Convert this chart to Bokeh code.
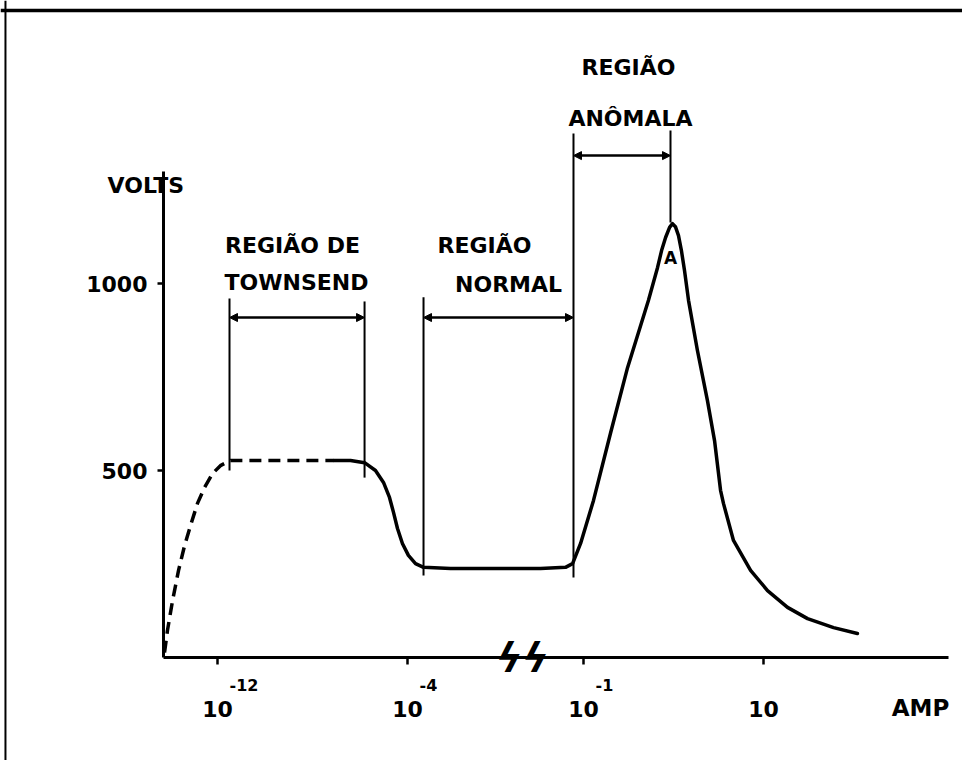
from bokeh.plotting import figure
from bokeh.models import (Range1d, LinearAxis, FixedTicker, CustomJSTickFormatter,
                          ColumnDataSource, Span, Arrow, NormalHead)
from bokeh.core.properties import value
from bokeh.embed import file_html
from bokeh.resources import INLINE

# ---- data (x: schematic position along the current axis, in tick divisions; y: volts) ----
tick_pos = [0.0, 1.044, 2.011, 3.0]
tick_base = ["10", "10", "10", "10"]
tick_exp = ["-12", "-4", "-1", ""]
volt_ticks = [500, 1000]

# dashed (uncertain) part of the characteristic
dash_x = [-0.291, -0.275, -0.247, -0.214, -0.181, -0.148, -0.110, -0.071, -0.027,
          0.016, 0.071, 0.236, 0.401, 0.637]
dash_v = [13, 72, 152, 233, 299, 353, 412, 455, 492, 513, 527, 527, 527, 527]

# solid part of the characteristic
solid_x = [0.637, 0.731, 0.808, 0.868, 0.912, 0.945, 0.967, 0.989, 1.016, 1.049, 1.088,
           1.132, 1.280, 1.555, 1.775, 1.912, 1.951, 1.995, 2.066, 2.159, 2.253, 2.368,
           2.418, 2.440, 2.462, 2.484, 2.500, 2.516, 2.533, 2.549, 2.566, 2.588, 2.637,
           2.692, 2.731, 2.764, 2.780, 2.835, 2.929, 3.022, 3.132, 3.242, 3.385, 3.516]
solid_v = [527, 527, 521, 500, 468, 428, 388, 345, 305, 273, 251,
           241, 238, 238, 238, 241, 251, 305, 420, 599, 775, 955,
           1043, 1088, 1123, 1150, 1160, 1152, 1128, 1088, 1035, 955, 821,
           687, 580, 447, 412, 313, 233, 179, 134, 104, 80, 64]

# region limit lines
vline_x = [0.066, 0.808, 1.132, 1.956, 2.489]
vline_top = [960, 952, 963, 1401, 1409]
vline_bottom = [500, 481, 219, 214, 1163]

# region brackets
region_left = [0.066, 1.132, 1.956]
region_right = [0.808, 1.956, 2.489]
region_bar_v = [909, 909, 1342]

# region labels
label_text = ["REGIÃO DE", "TOWNSEND", "REGIÃO", "NORMAL", "REGIÃO", "ANÔMALA"]
label_x = [0.412, 0.434, 1.467, 1.599, 2.258, 2.269]
label_v = [1102, 1002, 1102, 997, 1578, 1441]

FONT = value("DejaVu Sans")

p = figure(width=962, height=760, x_range=Range1d(-1.1923, 4.0934),
           y_range=Range1d(-275.4, 1756.7), min_border=0,
           toolbar_location=None, output_backend="svg",
           x_axis_location=None, y_axis_location=None)
p.outline_line_color = None
p.xgrid.grid_line_color = None
p.ygrid.grid_line_color = None
p.background_fill_color = "white"
p.border_fill_color = "white"

# scan frame (top and left edges)
p.add_layout(Span(location=1730, dimension="width", line_color="black", line_width=3.5))
p.add_layout(Span(location=-1.165, dimension="height", line_color="black", line_width=2))

# axes
xaxis = LinearAxis(fixed_location=0, bounds=(-0.297, 4.016),
                   ticker=FixedTicker(ticks=tick_pos),
                   formatter=CustomJSTickFormatter(args=dict(labels=tick_base),
                                                   code="return labels[index]"))
xaxis.axis_line_width = 3
xaxis.major_tick_line_width = 2.5
xaxis.major_tick_in = 0
xaxis.major_tick_out = 7
xaxis.minor_tick_out = 0
xaxis.major_label_standoff = 36
xaxis.major_label_text_font = "DejaVu Sans"
xaxis.major_label_text_font_style = "bold"
xaxis.major_label_text_font_size = "22px"
xaxis.major_label_text_color = "black"
p.add_layout(xaxis, "below")

yaxis = LinearAxis(fixed_location=-0.297, bounds=(0, 1300),
                   ticker=FixedTicker(ticks=volt_ticks))
yaxis.axis_line_width = 3
yaxis.major_tick_line_width = 2.5
yaxis.major_tick_in = 0
yaxis.major_tick_out = 6
yaxis.minor_tick_out = 0
yaxis.major_label_standoff = 10
yaxis.major_label_text_font = "DejaVu Sans"
yaxis.major_label_text_font_style = "bold"
yaxis.major_label_text_font_size = "22px"
yaxis.major_label_text_color = "black"
p.add_layout(yaxis, "left")

# exponents of the current tick labels
p.text(x=tick_pos, y=[0] * len(tick_pos), text=tick_exp, x_offset=12, y_offset=27,
       text_font=FONT, text_font_style="bold", text_font_size="16px",
       text_align="left", text_baseline="middle", text_color="black")

# axis break mark
p.text(x=[1.676], y=[0], text=["ϟϟ"], text_font=FONT, text_font_style="bold italic",
       text_font_size="40px", text_align="center", text_baseline="middle",
       text_color="black")

# axis titles
p.text(x=[-0.604], y=[1262], text=["VOLTS"], text_font=FONT, text_font_style="bold",
       text_font_size="22px", text_align="left", text_baseline="middle",
       text_color="black")
p.text(x=[3.863], y=[-135], text=["AMP"], text_font=FONT, text_font_style="bold",
       text_font_size="23px", text_align="center", text_baseline="middle",
       text_color="black")

# region limits and brackets
p.segment(x0=vline_x, y0=vline_bottom, x1=vline_x, y1=vline_top,
          line_color="black", line_width=2)
bar_src = ColumnDataSource(dict(x0=region_left, x1=region_right, v=region_bar_v))
p.add_layout(Arrow(x_start="x0", y_start="v", x_end="x1", y_end="v", source=bar_src,
                   start=NormalHead(size=8, fill_color="black", line_color="black"),
                   end=NormalHead(size=8, fill_color="black", line_color="black"),
                   line_color="black", line_width=2.5))

p.text(x=label_x, y=label_v, text=label_text, text_font=FONT, text_font_style="bold",
       text_font_size="22px", text_align="center", text_baseline="middle",
       text_color="black")

# characteristic curve
p.line(dash_x, dash_v, line_color="black", line_width=3.5, line_dash="12 7")
p.line(solid_x, solid_v, line_color="black", line_width=3.5, line_join="round",
       line_cap="round")

# point A at the peak
p.text(x=[2.489], y=[1067], text=["A"], text_font=FONT, text_font_style="bold",
       text_font_size="17px", text_align="center", text_baseline="middle",
       text_color="black")

open("out.html", "w").write(file_html(p, INLINE))
